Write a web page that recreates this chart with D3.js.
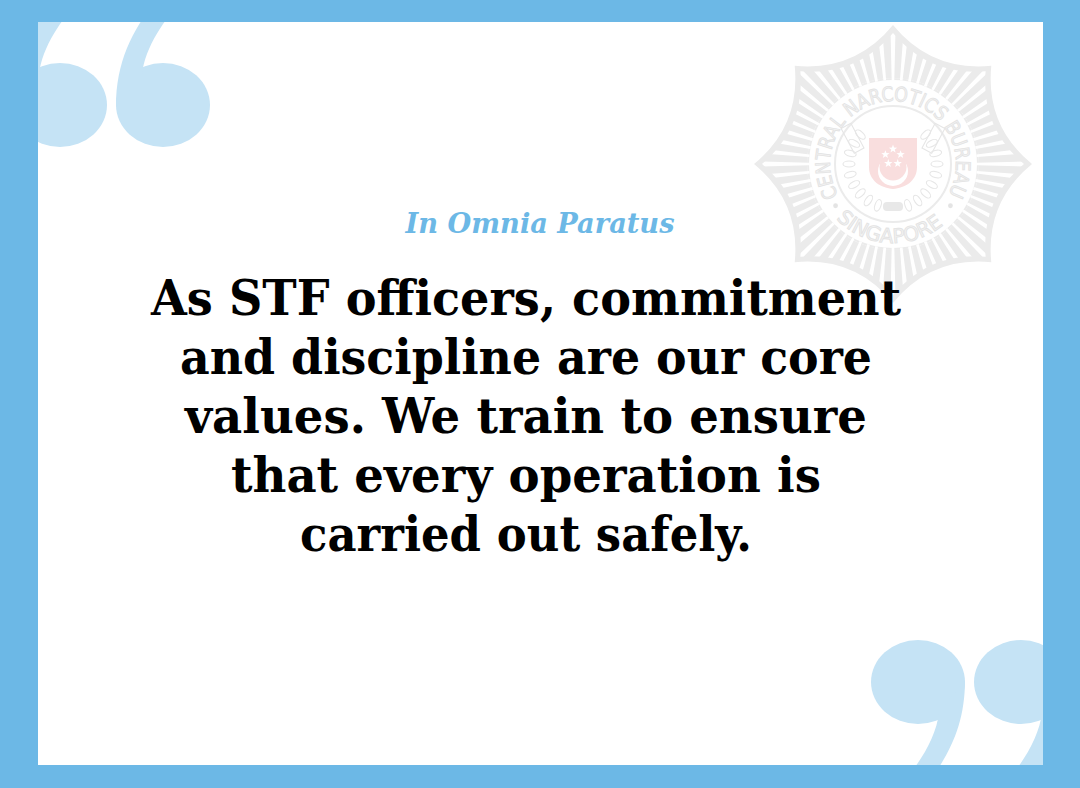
<!DOCTYPE html>
<html>
<head>
<meta charset="utf-8">
<script src="https://cdn.jsdelivr.net/npm/d3@7"></script>
<style>
  html, body { margin: 0; padding: 0; background: #ffffff; }
  svg { display: block; }
</style>
</head>
<body>
<div id="card"></div>
<script>
// texts of the card
const motto = "In Omnia Paratus";
const quoteLines = [
  "As STF officers, commitment",
  "and discipline are our core",
  "values. We train to ensure",
  "that every operation is",
  "carried out safely."
];
// ink widths of each line
const lineWidths = [750, 692, 682, 590, 452];
const emblemTop = "CENTRAL NARCOTICS BUREAU";
const emblemBottom = "SINGAPORE";

const W = 1080, H = 788;
const frame = { top: 22, right: 37, bottom: 23, left: 38 };
const blue = "#6cb8e6", pale = "#c5e3f5", grey = "#ebebeb";

const svg = d3.select("#card")
  .append("svg")
  .attr("width", W)
  .attr("height", H)
  .attr("viewBox", "0 0 " + W + " " + H);
const defs = svg.append("defs");

svg.append("rect")
  .attr("width", W).attr("height", H)
  .attr("fill", "#ffffff");

// ---------- big quote marks ("6" shape, rotated for "9") ----------
function quoteMark(g) {
  g.append("ellipse")
    .attr("rx", 47).attr("ry", 42)
    .attr("fill", pale);
  g.append("path")
    .attr("d", "M-47,2 C-47,-45 -30,-75 -5,-108 L22,-108 C5,-90 -18,-60 -21,-30 Z")
    .attr("fill", pale);
}
[[60, 105], [163, 105]].forEach(function (c) {
  svg.append("g")
    .attr("transform", "translate(" + c[0] + "," + c[1] + ")")
    .call(quoteMark);
});
[[918, 682], [1021, 682]].forEach(function (c) {
  svg.append("g")
    .attr("transform", "translate(" + c[0] + "," + c[1] + ") rotate(180)")
    .call(quoteMark);
});

// ---------- watermark emblem ----------
const cx = 893, cy = 164;
const emblem = svg.append("g").attr("transform", "translate(" + cx + "," + cy + ")");

function polar(r, deg) {
  const a = deg * Math.PI / 180;
  return [r * Math.sin(a), -r * Math.cos(a)];
}

// eight pointed star with slightly concave sides
function starPath(rTip, rCtl) {
  let d = "";
  for (let k = 0; k < 8; k++) {
    const p0 = polar(rTip, k * 45), c = polar(rCtl, k * 45 + 22.5), p1 = polar(rTip, (k + 1) * 45);
    if (k === 0) d += "M" + p0[0] + "," + p0[1];
    d += "Q" + c[0] + "," + c[1] + " " + p1[0] + "," + p1[1];
  }
  return d + "Z";
}

emblem.append("path").attr("d", starPath(139, 100)).attr("fill", grey);

defs.append("clipPath").attr("id", "innerStar")
  .append("path").attr("d", starPath(131, 95))
  .attr("transform", "translate(" + cx + "," + cy + ")");

const gaps = svg.append("g").attr("clip-path", "url(#innerStar)")
  .append("g").attr("transform", "translate(" + cx + "," + cy + ")");
gaps.selectAll("path")
  .data(d3.range(0, 360, 360 / 64))
  .enter()
  .append("path")
  .attr("d", function (d) {
    const a = polar(84, d - 0.9), b = polar(84, d + 0.9);
    const c = polar(150, d + 1.1), e = polar(150, d - 1.1);
    return "M" + a + "L" + b + "L" + c + "L" + e + "Z";
  })
  .attr("fill", "#ffffff");

emblem.append("circle").attr("r", 86).attr("fill", "#ffffff");
emblem.append("circle").attr("r", 85).attr("fill", "none").attr("stroke", grey).attr("stroke-width", 2);
emblem.append("circle").attr("r", 58).attr("fill", "none").attr("stroke", grey).attr("stroke-width", 2);

// ring texts
const t0 = polar(63, -120), t1 = polar(63, 120);
defs.append("path").attr("id", "arcTop")
  .attr("d", "M" + t0 + " A63,63 0 1,1 " + t1);
const b0 = polar(79, 226), b1 = polar(79, 134);
defs.append("path").attr("id", "arcBottom")
  .attr("d", "M" + b0 + " A79,79 0 0,0 " + b1);

function ringText(id, len, txt) {
  emblem.append("text")
    .attr("font-family", "DejaVu Sans, sans-serif")
    .attr("font-size", 20)
    .attr("fill", "#f3f3f3")
    .attr("stroke", "#e3e3e3")
    .attr("stroke-width", 0.9)
    .append("textPath")
    .attr("href", "#" + id)
    .attr("textLength", len)
    .attr("lengthAdjust", "spacingAndGlyphs")
    .text(txt);
}
ringText("arcTop", 262, emblemTop);
ringText("arcBottom", 118, emblemBottom);

[234, 126].forEach(function (d) {
  const p = polar(71, d);
  emblem.append("circle").attr("cx", p[0]).attr("cy", p[1]).attr("r", 2.4).attr("fill", "#e4e4e4");
});

// laurels
function laurel(side) {
  const g = emblem.append("g").attr("transform", "scale(" + side + ",1)");
  g.selectAll("ellipse")
    .data(d3.range(0, 9))
    .enter()
    .append("ellipse")
    .attr("transform", function (d) {
      const ang = 200 + d * 14;
      const p = polar(44, -ang + 360);
      return "translate(" + p[0] + "," + p[1] + ") rotate(" + (-ang + 90) + ")";
    })
    .attr("rx", 6).attr("ry", 3)
    .attr("fill", "none")
    .attr("stroke", "#e6e6e6")
    .attr("stroke-width", 1.1);
  g.append("rect")
    .attr("x", -46).attr("y", -40).attr("width", 11).attr("height", 28)
    .attr("transform", "rotate(-28 -40 -26)")
    .attr("fill", "none").attr("stroke", "#e6e6e6").attr("stroke-width", 1.1);
}
laurel(1);
laurel(-1);
emblem.append("rect")
  .attr("x", -10).attr("y", 38).attr("width", 20).attr("height", 9).attr("rx", 4)
  .attr("fill", "#e8e8e8");

// shield
emblem.append("path")
  .attr("d", "M-24,-26 L24,-26 L24,3 C24,17 12,24 0,25 C-12,24 -24,17 -24,3 Z")
  .attr("fill", "#f9dede");
emblem.append("circle").attr("cx", 0).attr("cy", 7).attr("r", 15).attr("fill", "#ffffff");
emblem.append("circle").attr("cx", 0).attr("cy", 3).attr("r", 13.5).attr("fill", "#f9dede");
const starPts = d3.range(5).map(function (k) { return polar(8, k * 72); });
const smallStar = d3.range(10).map(function (k) {
  return polar(k % 2 ? 1.8 : 4.4, k * 36);
});
emblem.selectAll(".sstar")
  .data(starPts)
  .enter()
  .append("path")
  .attr("class", "sstar")
  .attr("transform", function (d) { return "translate(" + d[0] + "," + (d[1] - 7) + ")"; })
  .attr("d", "M" + smallStar.join("L") + "Z")
  .attr("fill", "#ffffff");

// ---------- frame ----------
svg.append("path")
  .attr("d", "M0,0H" + W + "V" + H + "H0Z M" + frame.left + "," + frame.top +
    "V" + (H - frame.bottom) + "H" + (W - frame.right) + "V" + frame.top + "Z")
  .attr("fill", blue)
  .attr("fill-rule", "evenodd");

// ---------- texts ----------
svg.append("text")
  .attr("x", 540)
  .attr("y", 233)
  .attr("text-anchor", "middle")
  .attr("font-family", "DejaVu Serif, serif")
  .attr("font-style", "italic")
  .attr("font-weight", "bold")
  .attr("font-size", 27)
  .attr("fill", blue)
  .attr("textLength", 269)
  .attr("lengthAdjust", "spacingAndGlyphs")
  .text(motto);

const yLine = d3.scaleLinear().domain([0, quoteLines.length - 1]).range([315, 551]);

const lines = svg.append("g")
  .selectAll("text")
  .data(quoteLines)
  .enter()
  .append("text")
  .attr("x", 526)
  .attr("y", function (d, i) { return yLine(i); })
  .attr("text-anchor", "middle")
  .attr("font-family", "DejaVu Serif, serif")
  .attr("font-weight", "bold")
  .attr("font-size", 50)
  .attr("fill", "#000000")
  .text(function (d) { return d; });

// size the font so the first line is close to the picture, then trim each line
const natural = lines.node().getComputedTextLength();
const fs = 50 * lineWidths[0] / natural * 1.05;
lines.attr("font-size", fs)
  .attr("textLength", function (d, i) { return lineWidths[i]; })
  .attr("lengthAdjust", "spacingAndGlyphs");
</script>
</body>
</html>
